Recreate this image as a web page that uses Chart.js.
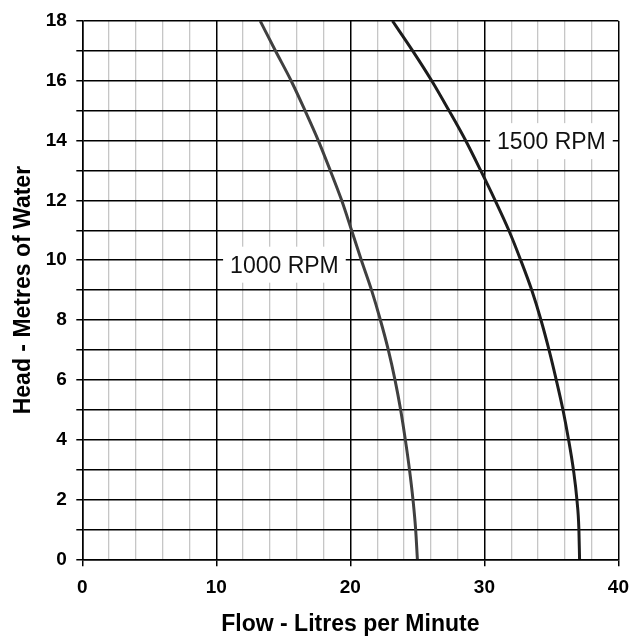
<!DOCTYPE html>
<html>
<head>
<meta charset="utf-8">
<script src="https://cdn.jsdelivr.net/npm/chart.js@4.4.1/dist/chart.umd.min.js"></script>
<style>
  html, body { margin: 0; padding: 0; background: #fff; }
  #wrap { width: 639px; height: 639px; }
</style>
</head>
<body>
<div id="wrap"><canvas id="c" width="639" height="639"></canvas></div>
<script>
// Head (metres of water) at each reading
const head = [0, 1, 2, 3, 4, 5, 6, 7, 8, 9, 10, 11, 12, 13, 14, 15, 16, 17, 18];
// Flow (litres per minute)
const flow1000 = [25.0, 24.87, 24.67, 24.41, 24.1, 23.75, 23.33, 22.83, 22.24, 21.58, 20.82, 20.09, 19.35, 18.50, 17.61, 16.62, 15.58, 14.41, 13.27];
const flow1500 = [37.1, 37.05, 36.9, 36.64, 36.28, 35.86, 35.36, 34.82, 34.22, 33.53, 32.71, 31.82, 30.80, 29.72, 28.60, 27.36, 26.07, 24.65, 23.14];
// Curve labels
const labelText = ['1000 RPM', '1500 RPM'];
const labelFlow = [15.08, 35.0];
const labelHead = [9.85, 13.98];

const xTicksMajor = [0, 10, 20, 30, 40];
const yTicksLabelled = [0, 2, 4, 6, 8, 10, 12, 14, 16, 18];

const FONT = '"Liberation Sans", Arial, Helvetica, sans-serif';

function pts(xs, ys) { return xs.map((x, i) => ({ x: x, y: ys[i] })); }

const labelPlugin = {
  id: 'curveLabels',
  beforeDatasetsDraw(chart) {
    const ctx = chart.ctx;
    const xs = chart.scales.x, ys = chart.scales.y;
    ctx.save();
    ctx.font = '23px ' + FONT;
    ctx.textAlign = 'center';
    ctx.textBaseline = 'alphabetic';
    for (let i = 0; i < labelText.length; i++) {
      const cx = xs.getPixelForValue(labelFlow[i]);
      const cy = ys.getPixelForValue(labelHead[i]);
      const w = ctx.measureText(labelText[i]).width + 14;
      const h = 36;
      ctx.fillStyle = '#ffffff';
      ctx.fillRect(cx - w / 2, cy - h / 2, w, h);
      ctx.fillStyle = '#111111';
      ctx.fillText(labelText[i], cx, cy + 8.2);
    }
    ctx.restore();
  }
};

new Chart(document.getElementById('c'), {
  type: 'scatter',
  data: {
    datasets: [
      {
        label: '1000 RPM',
        data: pts(flow1000, head),
        showLine: true,
        borderColor: '#404040',
        borderWidth: 3,
        pointRadius: 0,
        cubicInterpolationMode: 'monotone',
        fill: false
      },
      {
        label: '1500 RPM',
        data: pts(flow1500, head),
        showLine: true,
        borderColor: '#1c1c1c',
        borderWidth: 3,
        pointRadius: 0,
        cubicInterpolationMode: 'monotone',
        fill: false
      }
    ]
  },
  options: {
    responsive: false,
    animation: false,
    devicePixelRatio: 1,
    layout: { padding: { left: 0, right: 19, top: 16, bottom: 0 } },
    plugins: {
      legend: { display: false },
      tooltip: { enabled: false }
    },
    scales: {
      x: {
        type: 'linear',
        min: 0, max: 40,
        afterFit(scale) { scale.height = 79.7; },
        ticks: {
          stepSize: 2,
          color: '#000',
          padding: 10,
          maxRotation: 0,
          autoSkip: false,
          font: { family: FONT, size: 19, weight: 'bold' },
          callback: (v) => xTicksMajor.includes(v) ? String(v) : ''
        },
        grid: {
          color: (c) => (c.tick && xTicksMajor.includes(c.tick.value)) ? '#000000' : '#c6c6c6',
          lineWidth: (c) => (c.tick && xTicksMajor.includes(c.tick.value)) ? 1.5 : 1.3,
          tickLength: 7,
          tickColor: (c) => (c.tick && xTicksMajor.includes(c.tick.value)) ? '#000000' : 'rgba(0,0,0,0)',
          tickWidth: 1.5
        },
        border: { display: true, color: '#000', width: 1.5 },
        title: {
          display: true,
          text: 'Flow - Litres per Minute',
          color: '#000',
          font: { family: FONT, size: 23, weight: 'bold' },
          padding: { top: 0, bottom: 1 }
        }
      },
      y: {
        type: 'linear',
        min: 0, max: 18,
        afterFit(scale) { scale.width = 82.3; },
        ticks: {
          stepSize: 1,
          color: '#000',
          padding: 9.5,
          autoSkip: false,
          font: { family: FONT, size: 19, weight: 'bold' },
          callback: (v) => yTicksLabelled.includes(v) ? String(v) : ''
        },
        grid: {
          color: '#000000',
          lineWidth: 1.5,
          tickLength: 6,
          tickColor: '#000000',
          tickWidth: 1.5
        },
        border: { display: true, color: '#000', width: 1.5 },
        title: {
          display: true,
          text: 'Head - Metres of Water',
          color: '#000',
          font: { family: FONT, size: 23, weight: 'bold' },
          padding: { top: 10, bottom: 0 }
        }
      }
    }
  },
  plugins: [labelPlugin]
});
</script>
</body>
</html>
